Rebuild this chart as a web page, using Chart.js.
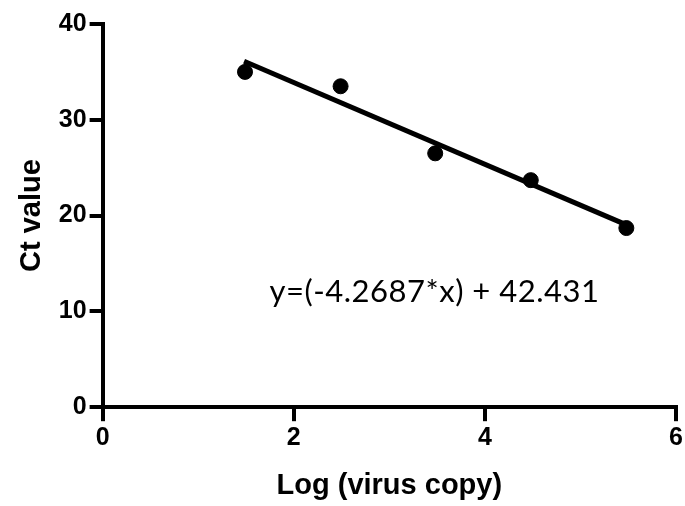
<!DOCTYPE html>
<html>
<head>
<meta charset="utf-8">
<script src="https://cdn.jsdelivr.net/npm/chart.js@4/dist/chart.umd.min.js"></script>
<style>
	html, body { margin: 0; padding: 0; background: #fff; }
	#wrap { width: 685px; height: 506px; }
</style>
</head>
<body>
<div id="wrap"><canvas id="ctChart" width="685" height="506"></canvas></div>
<script>
// measured points: log copy number vs Ct
var logCopy = [1.49, 2.49, 3.48, 4.48, 5.48];
var ctValue = [35.0, 33.5, 26.5, 23.7, 18.7];

// regression line as printed on the chart
var fitSlope = -4.2687;
var fitIntercept = 42.431;
var fitRange = [1.48, 5.5];
var fitLabel = 'y=(-4.2687*x) + 42.431';
var fitLabelAt = [3.473, 10.97];

var xTicks = [0, 2, 4, 6];
var yTicks = [0, 10, 20, 30, 40];

var pointData = logCopy.map(function(x, i) {
	return { x: x, y: ctValue[i] };
});
var fitData = fitRange.map(function(x) {
	return { x: x, y: fitSlope * x + fitIntercept };
});

var eqLabelPlugin = {
	id: 'eqLabel',
	afterDatasetsDraw: function(chart) {
		var ctx = chart.ctx;
		var px = chart.scales.x.getPixelForValue(fitLabelAt[0]);
		var py = chart.scales.y.getPixelForValue(fitLabelAt[1]);
		ctx.save();
		ctx.font = '31px Lato';
		ctx.letterSpacing = '0.5px';
		ctx.fillStyle = '#000';
		ctx.textAlign = 'center';
		ctx.textBaseline = 'alphabetic';
		ctx.fillText(fitLabel, px, py);
		ctx.restore();
	}
};

var tickFont = { family: 'Liberation Sans', size: 25, weight: 'bold' };
var titleFont = { family: 'Liberation Sans', size: 29, weight: 'bold' };

new Chart(document.getElementById('ctChart'), {
	type: 'scatter',
	data: {
		datasets: [
			{
				type: 'line',
				data: fitData,
				borderColor: '#000',
				borderWidth: 5,
				pointRadius: 0,
				fill: false
			},
			{
				data: pointData,
				backgroundColor: '#000',
				borderColor: '#000',
				pointRadius: 7.5,
				pointHoverRadius: 7.5
			}
		]
	},
	options: {
		responsive: false,
		animation: false,
		layout: { padding: { top: 24, right: 0, bottom: 3, left: 15 } },
		plugins: {
			legend: { display: false },
			tooltip: { enabled: false }
		},
		scales: {
			x: {
				type: 'linear',
				min: 0,
				max: 6,
				afterBuildTicks: function(axis) {
					axis.ticks = xTicks.map(function(v) { return { value: v }; });
				},
				border: { display: true, color: '#000', width: 4 },
				grid: { drawOnChartArea: false, drawTicks: true, tickLength: 14, color: '#000', lineWidth: 4 },
				ticks: { color: '#000', font: tickFont, padding: 2 },
				title: { display: true, text: 'Log (virus copy)', color: '#000', font: titleFont, padding: { top: 13, bottom: 0 } }
			},
			y: {
				type: 'linear',
				min: 0,
				max: 40,
				afterBuildTicks: function(axis) {
					axis.ticks = yTicks.map(function(v) { return { value: v }; });
				},
				border: { display: true, color: '#000', width: 4 },
				grid: { drawOnChartArea: false, drawTicks: true, tickLength: 13, color: '#000', lineWidth: 4 },
				ticks: { color: '#000', font: tickFont, padding: 3 },
				title: { display: true, text: 'Ct value', color: '#000', font: titleFont, padding: { top: 0, bottom: 6 } }
			}
		}
	},
	plugins: [eqLabelPlugin]
});
</script>
</body>
</html>
